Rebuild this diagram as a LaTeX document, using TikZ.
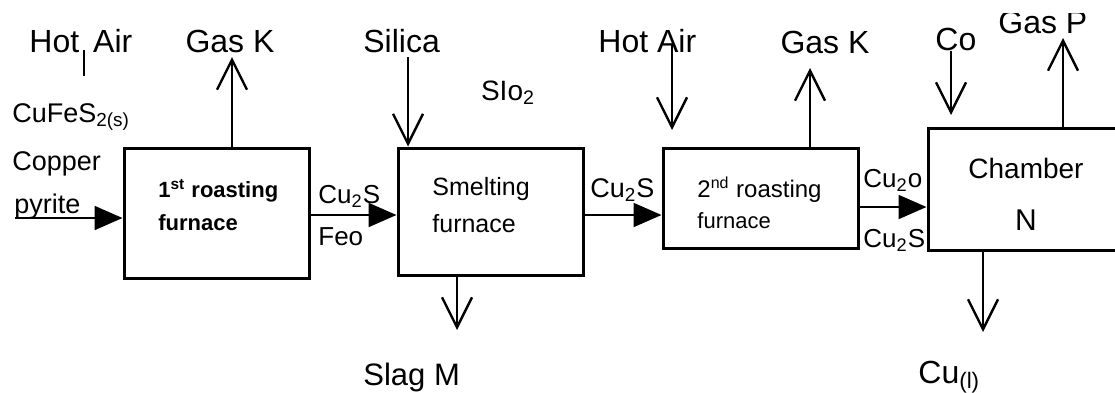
\documentclass[tikz,border=0pt]{standalone}
\usepackage{fontspec}
\setmainfont{Liberation Sans}
\usetikzlibrary{arrows.meta,fit}
\tikzset{
  furnace/.style={draw, line width=1.5pt, inner sep=0pt},
  biglab/.style={inner sep=0pt, font=\fontsize{16}{18}\selectfont},
  flowlab/.style={inner sep=0pt, font=\fontsize{13}{15}\selectfont},
  boxtxt/.style={inner sep=0pt, anchor=base west, font=\fontsize{12}{14}\selectfont},
  fa/.style={line width=1pt, -{Triangle[length=14pt,width=12pt]}},
  oa/.style={line width=1pt, -{Straight Barb[length=15pt,width=15pt,line width=1.2pt]}},
}
\begin{document}
\begin{tikzpicture}[x=0.5pt,y=-0.5pt]
\useasboundingbox (0,0) rectangle (1115,392);
\fill[white] (0,0) rectangle (1115,392);
\clip (0,13) rectangle (1115,392);

% furnaces
\node[furnace, fit={(124,148) (309,278)}] (b1) {};
\node[furnace, fit={(398,148) (583,275)}] (b2) {};
\node[furnace, fit={(663,148) (858,248)}] (b3) {};
\node[furnace, fit={(928,128) (1140,250)}] (b4) {};

% texts inside boxes
\node[boxtxt, font=\bfseries\fontsize{11}{13}\selectfont] (t1a) at (158,197) {1\textsuperscript{st} roasting};
\node[boxtxt, font=\bfseries\fontsize{11}{13}\selectfont] (t1b) at (158,230) {furnace};
\node[boxtxt, font=\fontsize{12.5}{14}\selectfont] (t2a) at (432,195) {Smelting};
\node[boxtxt, font=\fontsize{12.5}{14}\selectfont] (t2b) at (432,232) {furnace};
\node[boxtxt] (t3a) at (697,197) {2\textsuperscript{nd} roasting};
\node[boxtxt, font=\fontsize{11}{13}\selectfont] (t3b) at (697,228) {furnace};
\node[inner sep=0pt, anchor=base, font=\fontsize{14}{16}\selectfont] (t4a) at (1026,178) {Chamber};
\node[inner sep=0pt, anchor=base, font=\fontsize{15}{17}\selectfont] (t4b) at (1026,230) {N};

% feed
\node[flowlab, anchor=base west, font=\fontsize{13.5}{15}\selectfont] (feed1) at (12,122) {CuFeS\textsubscript{2(s)}};
\node[flowlab, anchor=base west, font=\fontsize{13.5}{15}\selectfont] (feed2) at (12,170) {Copper};
\node[flowlab, anchor=base west, font=\fontsize{13.5}{15}\selectfont] (feed3) at (14,213) {pyrite};
\coordinate (in) at (15,218);
\draw[fa] (in) -- (b1.west |- in);

% hot air 1
\node[biglab, anchor=base west] (ha1) at (29,52) {Hot\hspace{7pt}Air};
\coordinate (tk1) at (84,50);
\coordinate (tk2) at (84,76);
\draw[line width=1pt] (tk1) -- (tk2);

% gas K 1
\node[biglab, anchor=base] (gk1) at (230,52) {Gas K};
\coordinate (gk1t) at (232,57);
\draw[oa] (b1.north -| gk1t) -- (gk1t);

% 1 -> 2
\coordinate (a12) at (350,215);
\draw[fa] (b1.east |- a12) -- (b2.west |- a12);
\node[flowlab, anchor=base west] (c12a) at (318,203) {Cu\textsubscript{2}S};
\node[flowlab, anchor=base west] (c12b) at (318,245) {Feo};

% silica
\node[biglab, anchor=base west] (si) at (363,52) {Silica};
\coordinate (sit) at (408,57);
\draw[oa] (sit) -- (b2.north -| sit);
\node[inner sep=0pt, anchor=base, font=\fontsize{14}{16}\selectfont] (sio) at (508,100) {SIo\textsubscript{2}};

% slag
\coordinate (slt) at (457,330);
\draw[oa] (b2.south -| slt) -- (slt);
\node[biglab, anchor=base west, font=\fontsize{15.5}{18}\selectfont] (slag) at (363,385) {Slag M};

% 2 -> 3
\coordinate (a23) at (620,215);
\draw[fa] (b2.east |- a23) -- (b3.west |- a23);
\node[flowlab, anchor=base west, font=\fontsize{13.5}{15}\selectfont] (c23) at (590,197) {Cu\textsubscript{2}S};

% hot air 2
\node[biglab, anchor=base west] (ha2) at (598,52) {Hot Air};
\coordinate (ha2s) at (672,45);
\coordinate (ha2t) at (672,130);
\draw[oa] (ha2s) -- (ha2t);

% gas K 2
\node[biglab, anchor=base] (gk2) at (825,53) {Gas K};
\coordinate (gk2t) at (810,68);
\draw[oa] (b3.north -| gk2t) -- (gk2t);

% 3 -> 4
\coordinate (a34) at (890,207);
\draw[fa] (b3.east |- a34) -- (b4.west |- a34);
\node[flowlab, anchor=base west] (c34a) at (863,187) {Cu\textsubscript{2}o};
\node[flowlab, anchor=base west] (c34b) at (863,247) {Cu\textsubscript{2}S};

% Co
\node[biglab, anchor=base west] (co) at (935,50) {Co};
\coordinate (cot) at (951,115);
\draw[oa] (co.south -| cot) -- (cot);

% gas P
\node[biglab, anchor=base west] (gp) at (998,33) {Gas P};
\coordinate (gpt) at (1063,38);
\draw[oa] (b4.north -| gpt) -- (gpt);

% Cu(l)
\coordinate (cut) at (983,332);
\draw[oa] (b4.south -| cut) -- (cut);
\node[biglab, anchor=base west] (cul) at (918,383) {Cu\textsubscript{(l)}};
\end{tikzpicture}
\end{document}
